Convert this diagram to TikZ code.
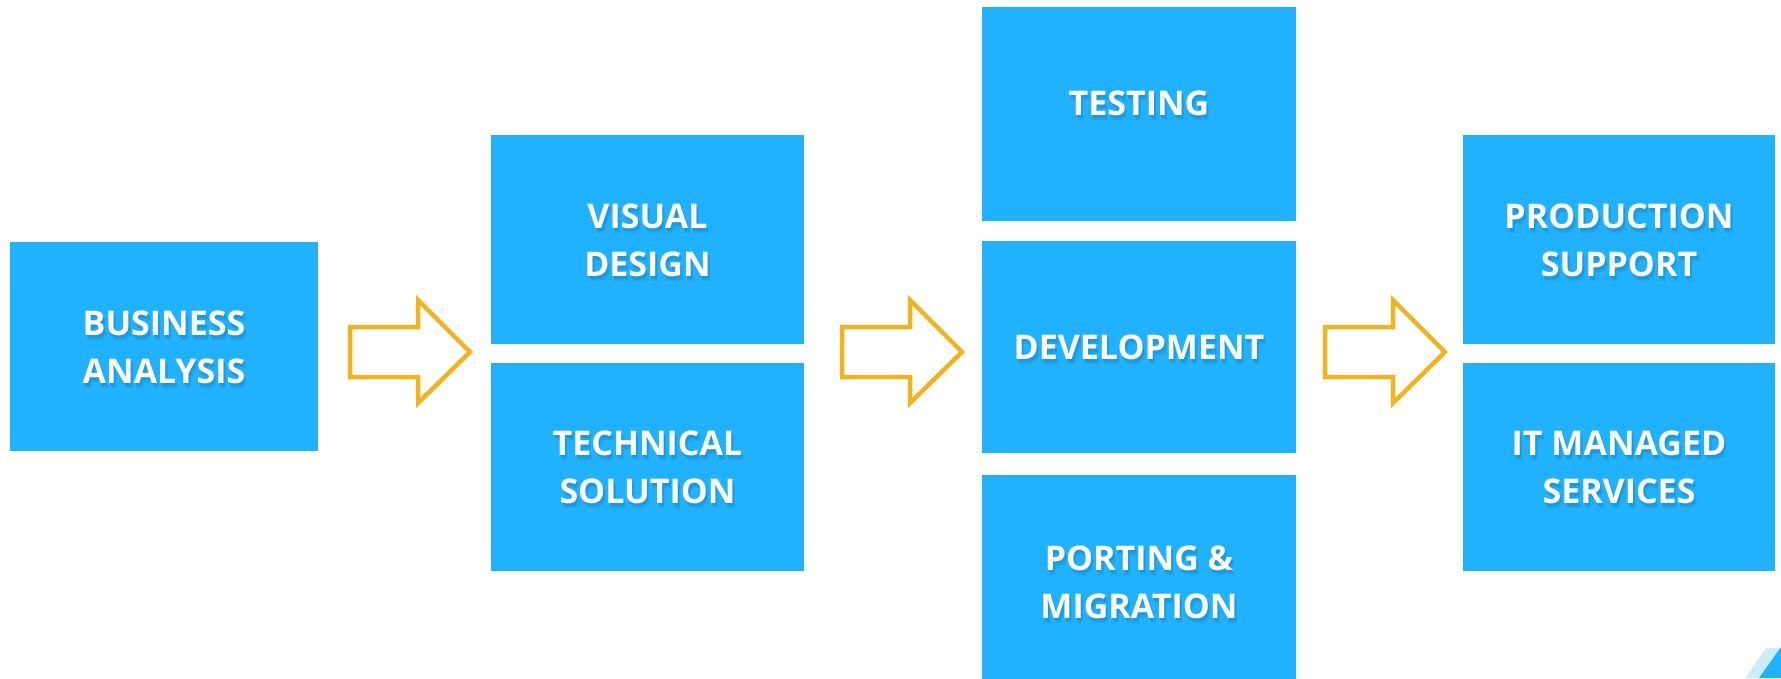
\documentclass[tikz,border=0pt]{standalone}
\usepackage{fontspec}
\setmainfont{Open Sans}
\definecolor{boxblue}{RGB}{33,178,255}
\definecolor{arrowgold}{RGB}{240,180,30}
\definecolor{lightblue}{RGB}{205,236,253}
\colorlet{shA}{boxblue!93!black}
\colorlet{shB}{boxblue!86!black}
\tikzset{
  boxstyle/.style={fill=boxblue, draw=none, inner sep=0pt},
  txt/.style={text=white, align=center, font=\bfseries\fontsize{34}{48}\selectfont, inner sep=0pt},
  flow/.style={draw=arrowgold, line width=4.5pt, fill=white, line join=miter},
}
\newcommand\shline[1]{\leavevmode\rlap{\hspace{2.5pt}\raisebox{-5pt}{\color{shA}#1}}\rlap{\hspace{1.5pt}\raisebox{-3pt}{\color{shB}#1}}#1}
\newcommand\mybox[6]{%
  \node[boxstyle, minimum width=#4pt, minimum height=#5pt] (#1) at (#2,#3) {};
  \node[txt] (#1-t) at ([yshift=-3pt]#1.center) {#6};
}
\newcommand\flowarrow[1]{%
  \draw[flow, shift={(#1,0)}] (350,327) -- (418,327) -- (418,300) -- (470,352) -- (418,403) -- (418,377) -- (350,377) -- cycle;
}
\begin{document}
\begin{tikzpicture}[x=1pt,y=-1pt]
\useasboundingbox (0,0) rectangle (1781,678);
\fill[white] (0,0) rectangle (1781,678);
\begin{scope}
\clip (0,0) rectangle (1781,678);
\mybox{ba}{164}{346.5}{308}{209}{\shline{BUSINESS}\\\shline{ANALYSIS}}
\mybox{vd}{647.5}{239.5}{313}{209}{\shline{VISUAL}\\\shline{DESIGN}}
\mybox{ts}{647.5}{467}{313}{208}{\shline{TECHNICAL}\\\shline{SOLUTION}}
\node[boxstyle, minimum width=314pt, minimum height=214pt] (te) at (1139,114) {};
\node[txt] (te-t) at ([yshift=8pt]te.center) {\shline{TESTING}};
\mybox{dev}{1139}{347}{314}{212}{\shline{DEVELOPMENT}}
\mybox{pm}{1139}{582}{314}{214}{\shline{PORTING \&}\\\shline{MIGRATION}}
\mybox{ps}{1619}{239.5}{312}{209}{\shline{PRODUCTION}\\\shline{SUPPORT}}
\mybox{itm}{1619}{467}{312}{208}{\shline{IT MANAGED}\\\shline{SERVICES}}
\flowarrow{0}
\flowarrow{492}
\flowarrow{975}
\fill[lightblue] (1745,678) -- (1766,648) -- (1781,648) -- (1781,678) -- cycle;
\fill[boxblue] (1759,678) -- (1781,647) -- (1781,678) -- cycle;
\end{scope}
\end{tikzpicture}
\end{document}
